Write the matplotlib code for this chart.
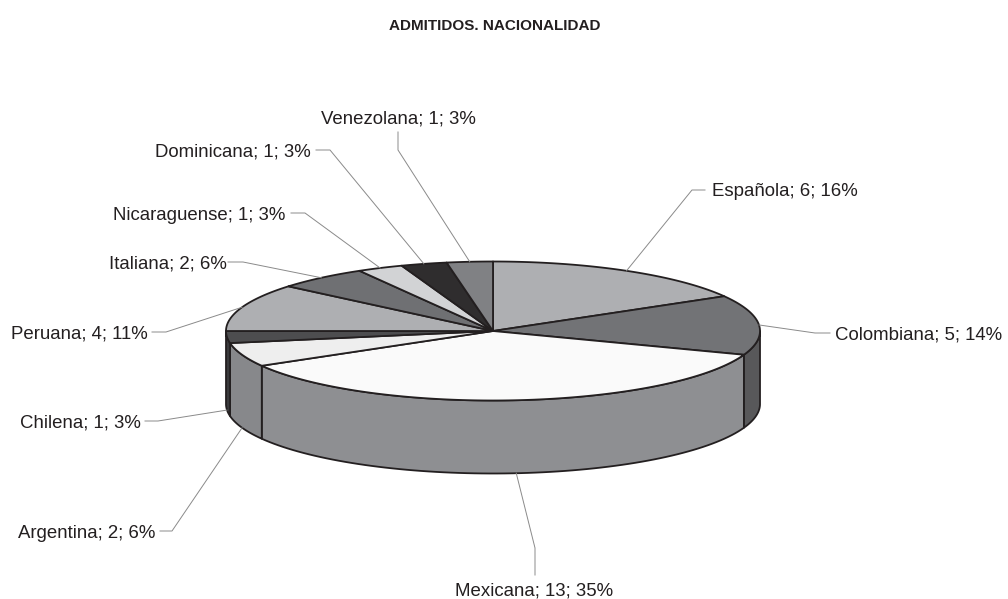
"""Flat redraw of the 3D pie of admitted students by nationality."""

import matplotlib.pyplot as plt
import numpy as np
from matplotlib.patches import Polygon

plt.rcParams["font.family"] = ["Liberation Sans", "DejaVu Sans"]

categories = ["Española", "Colombiana", "Mexicana", "Argentina", "Chilena",
              "Peruana", "Italiana", "Nicaraguense", "Dominicana", "Venezolana"]
counts = [6, 5, 13, 2, 1, 4, 2, 1, 1, 1]
percents = [16, 14, 35, 6, 3, 11, 6, 3, 3, 3]

top_colors = ["#aeafb2", "#727376", "#fafafa", "#eeeeee", "#4d4d4f",
              "#aeafb2", "#6f7073", "#d2d3d5", "#2f2d2e", "#808184"]
side_colors = ["#8e8f92", "#58585a", "#8e8f92", "#87888b", "#3a3a3c",
               "#8e8f92", "#58585a", "#a0a0a0", "#222222", "#6a6a6a"]

# pixel layout of the ellipse, image coordinates
CX, CY, RX, RY, DEPTH = 493, 331, 267, 69.5, 73
EDGE = "#231f20"
LEADER = "#8a8a8a"

# text anchor x, y, then the elbow and end of the leader line
label_layout = [
    (712, 190, (692, 190), (705, 190)),
    (835, 333, (815, 333), (830, 333)),
    (455, 589, (535, 548), (535, 575)),
    (18, 531, (172, 531), (160, 531)),
    (20, 421, (158, 421), (145, 421)),
    (11, 332, (166, 332), (152, 332)),
    (109, 262, (243, 262), (228, 262)),
    (113, 213, (305, 213), (291, 213)),
    (155, 150, (330, 150), (316, 150)),
    (321, 117, (398, 150), (398, 132)),
]


def ellipse_xy(theta_deg, dy=0.0):
    t = np.radians(theta_deg)
    return CX + RX * np.sin(t), CY - RY * np.cos(t) + dy


fig = plt.figure(figsize=(10.08, 5.99), dpi=100)
ax = fig.add_axes([0, 0, 1, 1])
ax.set_xlim(0, 1008)
ax.set_ylim(599, 0)
ax.axis("off")

edges = np.cumsum([0] + counts) / sum(counts) * 360.0

# side wall, only the front half of the ellipse shows
for i in range(len(counts)):
    start, end = max(edges[i], 90), min(edges[i + 1], 270)
    if end <= start:
        continue
    th = np.linspace(start, end, 80)
    x, y = ellipse_xy(th)
    pts = np.vstack([np.column_stack([x, y]), np.column_stack([x, y + DEPTH])[::-1]])
    ax.add_patch(Polygon(pts, closed=True, fc=side_colors[i], ec=EDGE, lw=1.3, joinstyle="round"))

# top face
for i in range(len(counts)):
    th = np.linspace(edges[i], edges[i + 1], 120)
    x, y = ellipse_xy(th)
    pts = np.vstack([[CX, CY], np.column_stack([x, y])])
    ax.add_patch(Polygon(pts, closed=True, fc=top_colors[i], ec=EDGE, lw=1.3, joinstyle="round"))

# labels and leader lines
for i, name in enumerate(categories):
    tx, ty, elbow, end = label_layout[i]
    mid = (edges[i] + edges[i + 1]) / 2
    dy = DEPTH if 90 < mid < 270 else 0
    ax_x, ax_y = ellipse_xy(mid, dy)
    ax.plot([ax_x, elbow[0], end[0]], [ax_y, elbow[1], end[1]], color=LEADER, lw=0.7, zorder=1)
    ax.text(tx, ty, f"{name}; {counts[i]}; {percents[i]}%", ha="left", va="center_baseline",
            fontsize=13.4, color="#231f20")

ax.text(494.5, 24, "ADMITIDOS. NACIONALIDAD", ha="center", va="center_baseline",
        fontsize=11, fontweight="bold", color="#231f20")

fig.savefig("out.png", dpi=100)
